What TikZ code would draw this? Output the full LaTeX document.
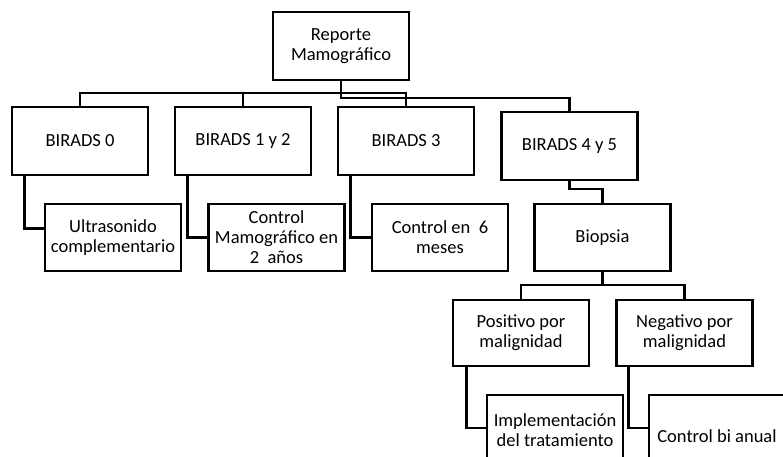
\documentclass[tikz,border=0pt]{standalone}
\usepackage{fontspec}
\setmainfont{Carlito}
\usetikzlibrary{positioning}

\begin{document}
\begin{tikzpicture}[x=1pt,y=-1pt,line width=2.6pt,
    font=\fontsize{18.5}{20}\selectfont]
\tikzstyle{box}=[draw,align=center,inner sep=2pt,minimum width=136pt,minimum height=68pt]

\clip (0,0) rectangle (783,456);

\node[box] (R)   at (341,46)    {Reporte\\Mamográfico};
\node[box] (B0)  at (80,141)    {BIRADS 0};
\node[box] (B12) at (243,141)   {BIRADS 1 y 2};
\node[box] (B3)  at (406,141)   {BIRADS 3};
\node[box] (B45) at (569.5,146) {BIRADS 4 y 5};
\node[box,minimum height=67pt]
    (U) at (113,237.5)   {Ultrasonido\\complementario};
\node[box,minimum height=67pt]
    (M) at (276.5,237.5) {Control\\Mamográfico en\\2\ \ años};
\node[box,minimum height=67pt]
    (S) at (440,237.5)   {Control en\ \ 6\\meses};
\node[box,minimum height=67pt]
    (Bx) at (602.5,237.5) {Biopsia};
\node[box,minimum height=66pt]  (P) at (521,333)   {Positivo por\\malignidad};
\node[box,minimum height=66pt]  (N) at (684.5,333) {Negativo por\\malignidad};
\node[box,minimum height=70pt]  (I) at (555,430)   {Implementación\\del tratamiento};
\node[box,minimum height=82pt]  (C) at (717,436)   {Control bi anual};

% buses
\coordinate (r1) at (341,98);
\coordinate (b1) at (341,93);
\coordinate (b2) at (569.5,189);
\coordinate (b3) at (602.5,285);

\draw (R.south) -- (r1) -| (B45.north);
\draw (B0.north) |- (b1) -| (B3.north);
\draw (B12.north) -- (B12.north |- b1);
\draw (B45.south) -- (b2) -| (Bx.north);
\draw (Bx.south) -- (b3);
\draw (P.north) |- (b3) -| (N.north);

% side links
\draw ([xshift=14pt]B0.south west)  |- ([yshift=9pt]U.west);
\draw ([xshift=14pt]B12.south west) |- (M.west);
\draw ([xshift=14pt]B3.south west)  |- (S.west);
\draw ([xshift=15pt]P.south west)   |- ([yshift=2pt]I.west);
\draw ([xshift=13pt]N.south west)   |- ([yshift=8pt]C.west);
\end{tikzpicture}
\end{document}
